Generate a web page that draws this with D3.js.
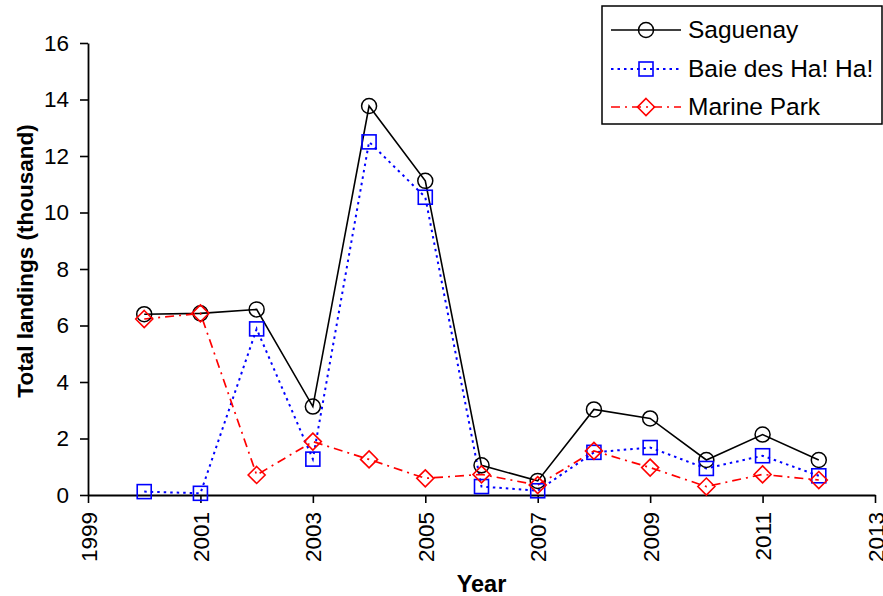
<!DOCTYPE html>
<html>
<head>
<meta charset="utf-8">
<script src="https://cdn.jsdelivr.net/npm/d3@7"></script>
<style>
  html, body { margin: 0; padding: 0; background: #fff; }
  svg { display: block; font-family: "Liberation Sans", Arial, sans-serif; }
</style>
</head>
<body>
<svg id="chart" width="883" height="596"></svg>
<script>
// Landings by year for each area (thousands)
const years = [2000, 2001, 2002, 2003, 2004, 2005, 2006, 2007, 2008, 2009, 2010, 2011, 2012];
const saguenay = [6.4, 6.43, 6.57, 3.13, 13.77, 11.12, 1.05, 0.5, 3.03, 2.71, 1.24, 2.14, 1.24];
const baieHaHa = [0.12, 0.06, 5.88, 1.27, 12.5, 10.54, 0.3, 0.15, 1.51, 1.68, 0.94, 1.39, 0.68];
const marinePark = [6.23, 6.43, 0.71, 1.89, 1.26, 0.59, 0.73, 0.35, 1.56, 0.97, 0.3, 0.73, 0.53];
const seriesNames = ["Saguenay", "Baie des Ha! Ha!", "Marine Park"];
const xTicks = [1999, 2001, 2003, 2005, 2007, 2009, 2011, 2013];
const yTicks = [0, 2, 4, 6, 8, 10, 12, 14, 16];

const svg = d3.select("#chart");
const plotLeft = 88, plotRight = 875, plotTop = 43, plotBottom = 495;

const x = d3.scaleLinear().domain([1999, 2013]).range([plotLeft, plotRight]);
const y = d3.scaleLinear().domain([0, 16]).range([plotBottom, plotTop]);

const styles = [
  { values: saguenay, color: "#000", dash: null, width: 1.6, marker: "circle" },
  { values: baieHaHa, color: "#0000ff", dash: "2.5,4", width: 2, marker: "square" },
  { values: marinePark, color: "#ff0000", dash: "9,5,2,5", width: 1.7, marker: "diamond" }
];

function drawMarker(g, type, color, cx, cy) {
  if (type === "circle") {
    g.append("circle").attr("cx", cx).attr("cy", cy).attr("r", 7.5)
      .attr("fill", "none").attr("stroke", color).attr("stroke-width", 1.5);
  } else if (type === "square") {
    g.append("rect").attr("x", cx - 7).attr("y", cy - 7).attr("width", 14).attr("height", 14)
      .attr("fill", "none").attr("stroke", color).attr("stroke-width", 1.6);
  } else {
    const s = 8.5;
    g.append("path")
      .attr("d", `M${cx},${cy - s}L${cx + s},${cy}L${cx},${cy + s}L${cx - s},${cy}Z`)
      .attr("fill", "none").attr("stroke", color).attr("stroke-width", 1.6);
  }
}

// Axes
const yAxis = d3.axisLeft(y).tickValues(yTicks).tickSize(8).tickSizeOuter(0).tickPadding(11);
const xAxis = d3.axisBottom(x).tickValues(xTicks).tickSize(8).tickSizeOuter(0).tickFormat(d3.format("d"));

const gy = svg.append("g").attr("transform", `translate(${plotLeft},0)`).call(yAxis);
gy.select(".domain").attr("stroke", "#000").attr("stroke-width", 1.8);
gy.selectAll(".tick line").attr("stroke", "#000").attr("stroke-width", 1.6);
gy.selectAll(".tick text").attr("font-size", 22.5).attr("fill", "#000")
  .attr("font-family", "Liberation Sans, Arial, sans-serif");

const gx = svg.append("g").attr("transform", `translate(0,${plotBottom})`).call(xAxis);
gx.select(".domain").attr("stroke", "#000").attr("stroke-width", 1.8);
gx.selectAll(".tick line").attr("stroke", "#000").attr("stroke-width", 1.6);
gx.selectAll(".tick text").attr("font-size", 22.5).attr("fill", "#000")
  .attr("font-family", "Liberation Sans, Arial, sans-serif")
  .attr("transform", "rotate(-90)")
  .attr("text-anchor", "end")
  .attr("x", -17).attr("y", 0).attr("dy", "0.36em");

// Axis titles
svg.append("text").attr("x", (plotLeft + plotRight) / 2).attr("y", 592)
  .attr("text-anchor", "middle").attr("font-size", 23.5).attr("font-weight", "bold").text("Year");
svg.append("text").attr("transform", "translate(33,261) rotate(-90)")
  .attr("text-anchor", "middle").attr("font-size", 22.5).attr("font-weight", "bold")
  .text("Total landings (thousand)");

// Series lines and markers
const line = d3.line().x((d, i) => x(years[i])).y(d => y(d));
styles.forEach(s => {
  svg.append("path").datum(s.values).attr("d", line)
    .attr("fill", "none").attr("stroke", s.color).attr("stroke-width", s.width)
    .attr("stroke-dasharray", s.dash);
});
styles.forEach(s => {
  const g = svg.append("g");
  s.values.forEach((v, i) => drawMarker(g, s.marker, s.color, x(years[i]), y(v)));
});

// Legend
const lg = svg.append("g");
lg.append("rect").attr("x", 602).attr("y", 6).attr("width", 280).attr("height", 118)
  .attr("fill", "#fff").attr("stroke", "#000").attr("stroke-width", 1.5);
const rowY = [30, 69, 107];
styles.forEach((s, i) => {
  lg.append("line").attr("x1", 611).attr("x2", 681).attr("y1", rowY[i]).attr("y2", rowY[i])
    .attr("stroke", s.color).attr("stroke-width", s.width).attr("stroke-dasharray", s.dash);
  drawMarker(lg, s.marker, s.color, 646, rowY[i]);
  lg.append("text").attr("x", 688).attr("y", rowY[i] + 7.5)
    .attr("font-size", 24.5).attr("fill", "#000").text(seriesNames[i]);
});
</script>
</body>
</html>
